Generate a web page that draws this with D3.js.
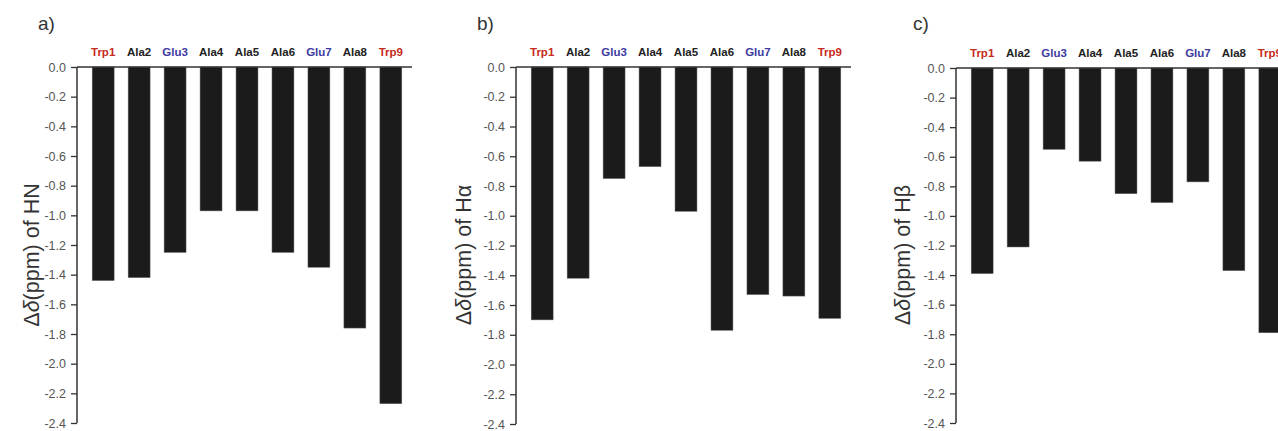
<!DOCTYPE html>
<html>
<head>
<meta charset="utf-8">
<script src="https://cdn.jsdelivr.net/npm/d3@7"></script>
<style>
  body { margin: 0; background: #fff; }
  svg { display: block; font-family: "Liberation Sans", Arial, Helvetica, sans-serif; }
</style>
</head>
<body>
<div id="chart"></div>
<script>
var residues = ["Trp1", "Ala2", "Glu3", "Ala4", "Ala5", "Ala6", "Glu7", "Ala8", "Trp9"];
var shiftHN = [-1.44, -1.42, -1.25, -0.97, -0.97, -1.25, -1.35, -1.76, -2.27];
var shiftHa = [-1.70, -1.42, -0.75, -0.67, -0.97, -1.77, -1.53, -1.54, -1.69];
var shiftHb = [-1.39, -1.21, -0.55, -0.63, -0.85, -0.91, -0.77, -1.37, -1.79];
var yTicks = [0, -0.2, -0.4, -0.6, -0.8, -1.0, -1.2, -1.4, -1.6, -1.8, -2.0, -2.2, -2.4];
var panelTags = ["a)", "b)", "c)"];
var nuclei = ["HN", "H\u03B1", "H\u03B2"];

var width = 1278,
    height = 431;

var panels = [
  {tag: panelTags[0], nucleus: nuclei[0], values: shiftHN, axisX: 77,  top: 67, bottom: 423, tagX: 38,  labelX: 31},
  {tag: panelTags[1], nucleus: nuclei[1], values: shiftHa, axisX: 516, top: 67, bottom: 424, tagX: 477, labelX: 463},
  {tag: panelTags[2], nucleus: nuclei[2], values: shiftHb, axisX: 956, top: 68, bottom: 423, tagX: 913, labelX: 902}
];

function residueColor(name) {
  if (name.indexOf("Trp") === 0) return "#c62b20";
  if (name.indexOf("Glu") === 0) return "#3d3aa0";
  return "#222";
}

var svg = d3.select("#chart").append("svg")
  .attr("width", width)
  .attr("height", height);

panels.forEach(function(p) {
  var g = svg.append("g");

  var x = d3.scaleBand()
    .domain(residues)
    .range([p.axisX + 8, p.axisX + 8 + 9 * 36])
    .paddingInner(0.39)
    .paddingOuter(0.2);

  var y = d3.scaleLinear()
    .domain([0, -2.4])
    .range([p.top, p.bottom]);

  // bars hang down from zero
  g.selectAll("rect.bar")
    .data(p.values)
    .enter().append("rect")
      .attr("class", "bar")
      .attr("x", function(d, i) { return x(residues[i]); })
      .attr("y", y(0))
      .attr("width", x.bandwidth())
      .attr("height", function(d) { return y(d) - y(0); })
      .attr("fill", "#1b1b1b")
      .attr("stroke", "#666")
      .attr("stroke-width", 0.5);

  // left axis
  var yAxis = d3.axisLeft(y)
    .tickValues(yTicks)
    .tickSize(6)
    .tickPadding(5)
    .tickFormat(d3.format(".1f"));

  var ax = g.append("g")
    .attr("transform", "translate(" + p.axisX + ",0)")
    .call(yAxis);
  ax.select(".domain").attr("stroke", "#333").attr("stroke-width", 1.5)
    .attr("d", "M0," + p.top + "V" + p.bottom);
  ax.selectAll(".tick line").attr("stroke", "#333").attr("stroke-width", 1.3);
  ax.selectAll(".tick text")
    .attr("fill", "#555")
    .style("font-size", "12.5px")
    .text(function(d) { return d3.format(".1f")(d).replace("\u2212", "-"); });

  // zero line across the top
  g.append("line")
    .attr("x1", p.axisX)
    .attr("x2", p.axisX + 335)
    .attr("y1", y(0))
    .attr("y2", y(0))
    .attr("stroke", "#333")
    .attr("stroke-width", 1.5);

  // residue labels on top
  g.selectAll("text.res")
    .data(residues)
    .enter().append("text")
      .attr("class", "res")
      .attr("x", function(d) { return x(d) + x.bandwidth() / 2; })
      .attr("y", p.top - 11)
      .attr("text-anchor", "middle")
      .attr("fill", residueColor)
      .style("font-size", "11.5px")
      .style("font-weight", "bold")
      .text(function(d) { return d; });

  // panel tag
  g.append("text")
    .attr("x", p.tagX)
    .attr("y", 30)
    .attr("fill", "#333")
    .style("font-size", "19px")
    .text(p.tag);

  // y label
  var lab = g.append("text")
    .attr("transform", "translate(" + p.labelX + ",255) rotate(-90)")
    .attr("text-anchor", "middle")
    .attr("dy", "0.35em")
    .attr("fill", "#333")
    .style("font-size", "21.5px");
  lab.append("tspan").text("\u0394");
  lab.append("tspan").style("font-style", "italic").text("\u03B4");
  lab.append("tspan").text("(ppm) of " + p.nucleus);
});
</script>
</body>
</html>
